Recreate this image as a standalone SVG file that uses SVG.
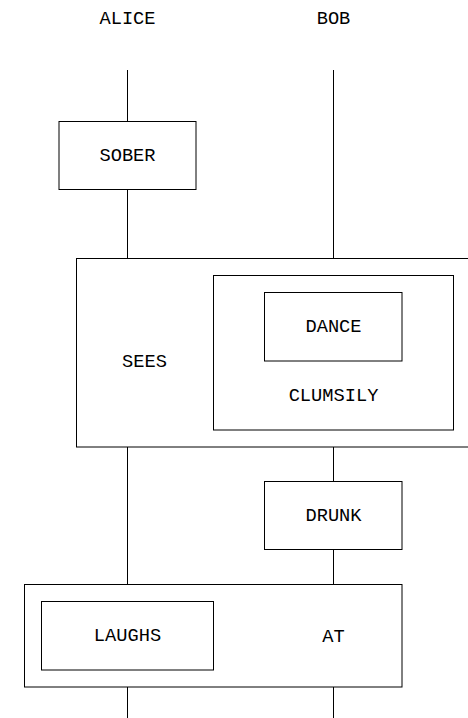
<svg xmlns="http://www.w3.org/2000/svg" width="468" height="718" viewBox="0 0 468 718">
<style>
rect{fill:#fff;stroke:#000;stroke-width:1}
line{stroke:#000;stroke-width:1}
text{font-family:"Liberation Mono","DejaVu Sans Mono",monospace;font-size:18.7px;fill:#000;text-anchor:middle;dominant-baseline:central}
</style>
<rect x="0" y="0" width="468" height="718" style="stroke:none"/>
<g id="connectors">
<line x1="127.5" y1="70" x2="127.5" y2="718"/>
<line x1="333.5" y1="70" x2="333.5" y2="718"/>
</g>
<g id="alice"><text x="127.5" y="18.5">ALICE</text></g>
<g id="bob"><text x="333.5" y="18.5">BOB</text></g>
<g id="sober"><rect x="59" y="121.5" width="137" height="68"/><text x="127.5" y="155.5">SOBER</text></g>
<g id="sees"><rect x="76.5" y="258.5" width="400" height="188.5"/><text x="144.5" y="361.5">SEES</text></g>
<g id="clumsily"><rect x="213.5" y="275.5" width="240" height="154.5"/><text x="333.5" y="395.5">CLUMSILY</text></g>
<g id="dance"><rect x="264.5" y="292.5" width="137.5" height="68.5"/><text x="333.5" y="326.5">DANCE</text></g>
<g id="drunk"><rect x="264.5" y="481.5" width="137.5" height="68"/><text x="333.5" y="515.5">DRUNK</text></g>
<g id="at"><rect x="24.5" y="584.5" width="377.5" height="102.5"/><text x="333.5" y="636.5">AT</text></g>
<g id="laughs"><rect x="41.5" y="601.5" width="172" height="68.5"/><text x="127.5" y="635.5">LAUGHS</text></g>
</svg>
